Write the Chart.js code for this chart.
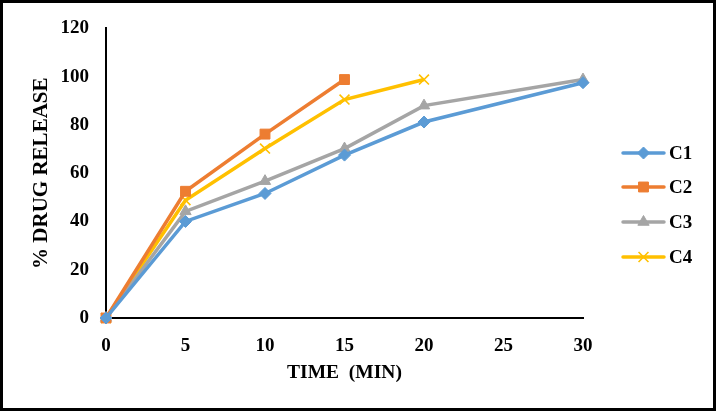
<!DOCTYPE html>
<html>
<head>
<meta charset="utf-8">
<script src="https://cdn.jsdelivr.net/npm/chart.js@4.4.0/dist/chart.umd.min.js"></script>
<style>
html,body{margin:0;padding:0;background:#fff;}
#wrap{width:716px;height:411px;position:relative;}
</style>
</head>
<body>
<div id="wrap"><canvas id="c" width="716" height="411"></canvas></div>
<script>
const timeMin = [0, 5, 10, 15, 20, 30];
const c1 = [0, 40, 51.6, 67.5, 81.2, 97.5];
const c2 = [0, 52.5, 76.2, 98.8];
const c3 = [0, 44.2, 56.7, 70.2, 88, 98.8];
const c4 = [0, 48.8, 70.2, 90.5, 98.8];
const seriesNames = ['C1', 'C2', 'C3', 'C4'];
const xTicks = [0, 5, 10, 15, 20, 25, 30];
const yTicks = [0, 20, 40, 60, 80, 100, 120];

const colors = ['#5B9BD5', '#ED7D31', '#A5A5A5', '#FFC000'];
const styles = ['rectRot', 'rect', 'triangle', 'crossRot'];
const radii = [6, 7, 6.5, 7];
const values = [c1, c2, c3, c4];

const datasets = values.map((vals, i) => ({
  label: seriesNames[i],
  data: vals.map((v, j) => ({x: timeMin[j], y: v})),
  borderColor: colors[i],
  backgroundColor: colors[i],
  borderWidth: 3.5,
  pointStyle: styles[i],
  pointRadius: radii[i],
  pointHoverRadius: radii[i],
  pointBackgroundColor: colors[i],
  pointBorderColor: colors[i],
  pointBorderWidth: i === 3 ? 1.6 : 1,
  tension: 0,
  clip: false
}));

const serif = '"Liberation Serif", "Times New Roman", serif';

const frame = {
  id: 'frame',
  beforeDraw(chart) {
    const ctx = chart.ctx;
    ctx.save();
    ctx.fillStyle = '#fff';
    ctx.fillRect(0, 0, chart.width, chart.height);
    ctx.restore();
  },
  afterDraw(chart) {
    const ctx = chart.ctx;
    const ys = [153, 187, 222, 257];
    ctx.save();
    ctx.strokeStyle = '#000';
    ctx.lineWidth = 3;
    ctx.strokeRect(1.5, 1.5, chart.width - 3, chart.height - 3);
    chart.data.datasets.forEach((ds, i) => {
      const y = ys[i];
      ctx.strokeStyle = ds.borderColor;
      ctx.lineWidth = 3.5;
      ctx.lineCap = 'round';
      ctx.beginPath();
      ctx.moveTo(623, y);
      ctx.lineTo(664, y);
      ctx.stroke();
      ctx.lineCap = 'butt';
      ctx.fillStyle = ds.pointBackgroundColor;
      ctx.strokeStyle = ds.pointBorderColor;
      ctx.lineWidth = ds.pointBorderWidth;
      Chart.helpers.drawPoint(ctx, {
        pointStyle: ds.pointStyle,
        radius: ds.pointRadius,
        borderWidth: ds.pointBorderWidth,
        rotation: 0
      }, 643.5, y);
      ctx.fillStyle = '#000';
      ctx.font = 'bold 19px ' + serif;
      ctx.textBaseline = 'middle';
      ctx.textAlign = 'left';
      ctx.fillText(ds.label, 669, y + 1);
    });
    ctx.restore();
  }
};

const tickFont = {family: serif, size: 19, weight: 'bold'};

new Chart(document.getElementById('c'), {
  type: 'line',
  data: {datasets},
  options: {
    responsive: false,
    animation: false,
    devicePixelRatio: 1,
    layout: {padding: {left: 0, right: 133, top: 24, bottom: 0}},
    plugins: {legend: {display: false}, tooltip: {enabled: false}},
    scales: {
      x: {
        type: 'linear',
        min: 0, max: 30,
        afterBuildTicks(scale) { scale.ticks = xTicks.map(v => ({value: v})); },
        afterFit(scale) { scale.height = 93; },
        grid: {display: false, drawTicks: false},
        border: {display: true, color: '#000', width: 2},
        ticks: {color: '#000', font: tickFont, padding: 17, maxRotation: 0},
        title: {display: true, text: 'TIME  (MIN)', color: '#000', font: {family: serif, size: 19.5, weight: 'bold'}, padding: {top: 0, bottom: 26}}
      },
      y: {
        type: 'linear',
        min: 0, max: 120,
        afterBuildTicks(scale) { scale.ticks = yTicks.map(v => ({value: v})); },
        afterFit(scale) { scale.width = 106; },
        grid: {display: false, drawTicks: false},
        border: {display: true, color: '#000', width: 2},
        ticks: {color: '#000', font: tickFont, padding: 17},
        title: {display: true, text: '% DRUG RELEASE', color: '#000', font: {family: serif, size: 21, weight: 'bold'}, padding: {top: 29, bottom: 0}}
      }
    }
  },
  plugins: [frame]
});
</script>
</body>
</html>
